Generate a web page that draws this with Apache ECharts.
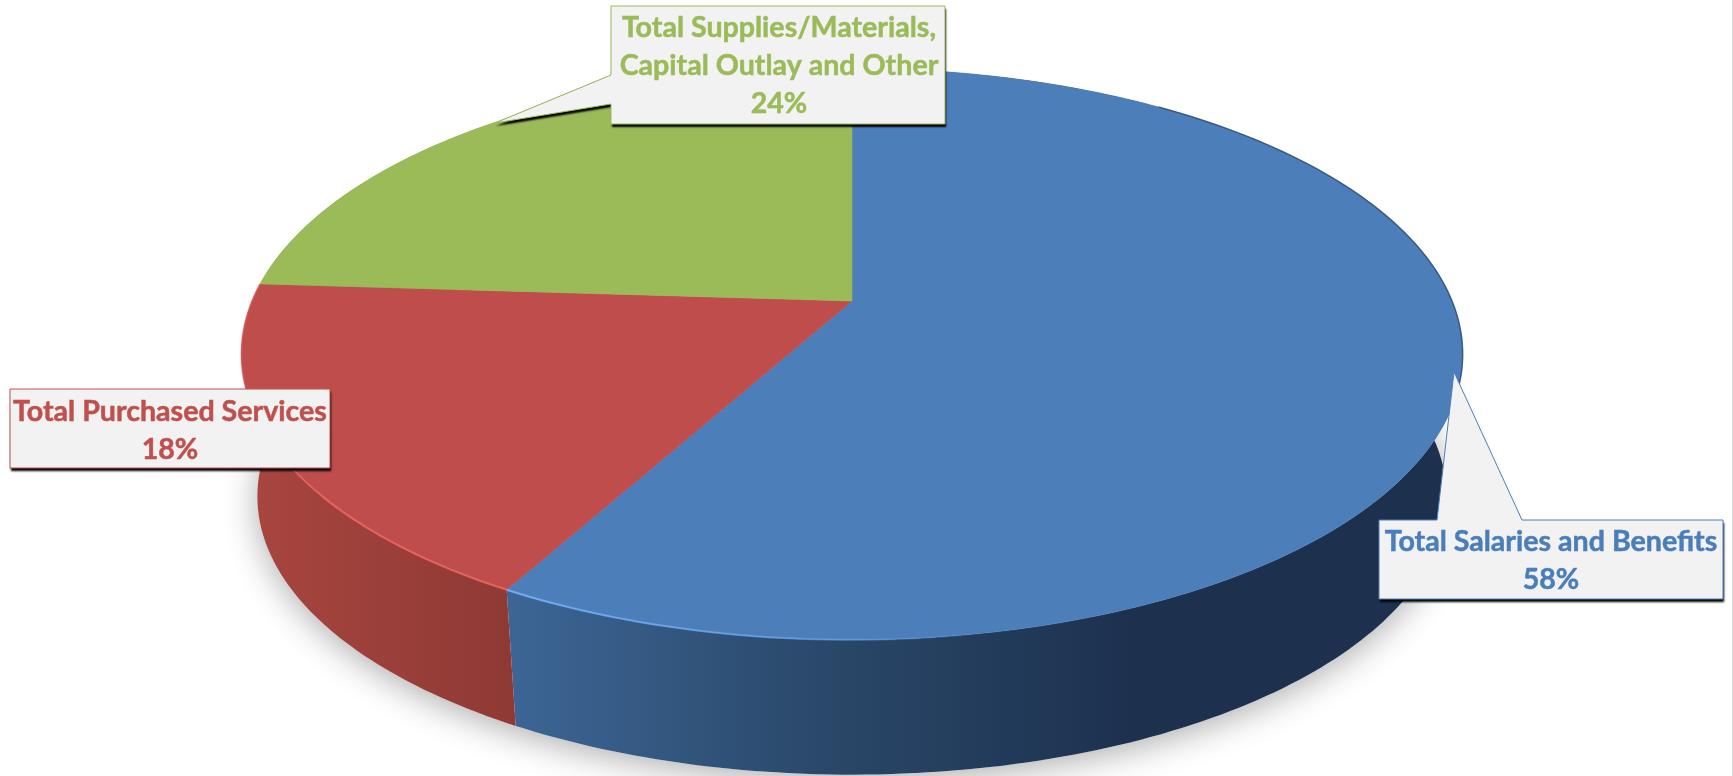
<!DOCTYPE html>
<html>
<head>
<meta charset="utf-8">
<title>Expenditures by category</title>
<script src="https://cdn.jsdelivr.net/npm/echarts@6/dist/echarts.min.js"></script>
<style>
  html, body { margin: 0; padding: 0; background: #ffffff; }
  #chart { width: 1733px; height: 776px; }
</style>
</head>
<body>
<div id="chart"></div>
<script>
// Spending shares, in drawing order clockwise from twelve o'clock
const categories = ['Total Salaries and Benefits', 'Total Purchased Services', 'Total Supplies/Materials,\nCapital Outlay and Other'];
const shares = [58, 18, 24];

// Slice colours
const faceColors = ['#4c7eba', '#be4d4b', '#9bbb59'];
const labelColors = ['#4a7ebb', '#c0504d', '#9bbb59'];

// Perspective disc: a unit circle projected onto the page
const disc = { cx: 852, cy: 301, rx: 600, ry: 275.8, tilt: 0.186 };
// The lower rim is the same disc scaled towards the vanishing point below the chart
const vanish = { x: 852, y: 5787 };
const baseScale = 0.9738;

function project(turn, lower) {
  const a = turn * 2 * Math.PI;
  const u = Math.sin(a), v = Math.cos(a);
  const d = 1 + disc.tilt * v;
  const x = disc.cx + disc.rx * u / d;
  const y = disc.cy - disc.ry * v / d;
  if (!lower) return [x, y];
  return [vanish.x + (x - vanish.x) * baseScale, vanish.y + (y - vanish.y) * baseScale];
}

function arc(api, from, to, lower) {
  const pts = [];
  const steps = Math.max(2, Math.ceil(Math.abs(to - from) * 360));
  for (let i = 0; i <= steps; i++) {
    pts.push(api.coord(project(from + (to - from) * i / steps, lower)));
  }
  return pts;
}

const gradient = (x0, x1, stops) => new echarts.graphic.LinearGradient(x0, 0, x1, 0, stops, true);

// Wall shading and rim highlights per slice
const wallFills = [
  gradient(515, 1130, [{ offset: 0, color: '#3c6595' }, { offset: 0.5, color: '#2a4869' }, { offset: 1, color: '#1d314f' }]),
  gradient(255, 520, [{ offset: 0, color: '#a8453f' }, { offset: 1, color: '#8e3935' }]),
  '#7d9647'
];
const rimStrokes = [
  gradient(508, 980, [{ offset: 0, color: 'rgba(112,172,245,1)' }, { offset: 0.6, color: 'rgba(112,172,245,0.6)' }, { offset: 1, color: 'rgba(112,172,245,0)' }]),
  gradient(245, 510, [{ offset: 0, color: 'rgba(232,98,92,0.35)' }, { offset: 0.3, color: 'rgba(232,98,92,1)' }, { offset: 1, color: 'rgba(232,98,92,1)' }]),
  null
];
// Dark hairline along the far right of the disc
const backEdge = { from: 0.1, to: 0.3, stroke: 'rgba(45,75,115,0.75)' };

// Callout boxes: box rectangle, pointer triangle and text anchor
const callouts = [
  { box: [1379, 520, 1723, 599], pointer: [[1437, 520], [1454, 372], [1522, 520]], pointerShadow: false, textX: 1551, textY: 542 },
  { box: [10, 389, 330, 468], pointer: null, pointerShadow: false, textX: 170, textY: 412 },
  { box: [611, 6, 945, 124], pointer: [[611, 75], [495, 123], [611, 104]], pointerShadow: true, textX: 779, textY: 28 }
];
const lineGap = 38;

const rows = [];
let running = 0;
shares.forEach(function (value) {
  rows.push([running, value]);
  running += value;
});
const total = running;

function renderBase(params, api) {
  return {
    type: 'polygon',
    shape: { points: arc(api, 0, 1, true) },
    style: { fill: '#ffffff', shadowBlur: 34, shadowColor: 'rgba(0,0,0,0.32)', shadowOffsetX: 0, shadowOffsetY: 6 }
  };
}

function renderWall(params, api) {
  const from = api.value(0) / total, to = from + api.value(1) / total;
  return {
    type: 'polygon',
    shape: { points: arc(api, from, to, false).concat(arc(api, to, from, true)) },
    style: { fill: wallFills[params.dataIndex] }
  };
}

function renderFace(params, api) {
  const from = api.value(0) / total, to = from + api.value(1) / total;
  const color = faceColors[params.dataIndex];
  const apex = api.coord([disc.cx, disc.cy]);
  return {
    type: 'polygon',
    shape: { points: [apex].concat(arc(api, from, to, false)) },
    style: { fill: color, stroke: color, lineWidth: 0.6 }
  };
}

function renderRim(params, api) {
  const i = params.dataIndex;
  const from = api.value(0) / total, to = from + api.value(1) / total;
  const children = [];
  if (rimStrokes[i]) {
    children.push({
      type: 'polyline',
      shape: { points: arc(api, from, to, false) },
      style: { fill: null, stroke: rimStrokes[i], lineWidth: 2 }
    });
  }
  if (i === 0) {
    children.push({
      type: 'polyline',
      shape: { points: arc(api, backEdge.from, backEdge.to, false) },
      style: { fill: null, stroke: backEdge.stroke, lineWidth: 1.5 }
    });
  }
  return { type: 'group', children: children };
}

function renderCallout(params, api) {
  const i = params.dataIndex;
  const c = callouts[i];
  const color = labelColors[i];
  const [x0, y0, x1, y1] = c.box;
  const rect = [[x0, y0], [x1, y0], [x1, y1], [x0, y1]];
  // Walk the outline clockwise so the pointer leaves from the right box edge
  let outline = rect;
  if (c.pointer) {
    outline = c.pointer[0][1] === y0
      ? [[x0, y0]].concat(c.pointer, [[x1, y0], [x1, y1], [x0, y1]])
      : rect.concat(c.pointer.slice().reverse());
  }
  const toPage = function (p) { return api.coord(p); };
  const lines = (categories[i] + '\n' + api.value(1) + '%').split('\n');
  const children = [{
    type: 'polygon',
    shape: { points: (c.pointerShadow ? outline : rect).map(toPage) },
    style: { fill: '#000000', shadowBlur: 2, shadowColor: '#000000', shadowOffsetX: 1, shadowOffsetY: 3 }
  }, {
    type: 'polygon',
    shape: { points: outline.map(toPage) },
    style: { fill: '#f2f2f2', stroke: color, lineWidth: 1 }
  }];
  lines.forEach(function (line, n) {
    const at = api.coord([c.textX, c.textY + n * lineGap]);
    children.push({
      type: 'text',
      style: {
        text: line, x: at[0], y: at[1], align: 'center', verticalAlign: 'middle',
        fill: color, stroke: color, lineWidth: 0.5,
        font: 'bold 28.6px Lato, "Open Sans", sans-serif'
      }
    });
  });
  return { type: 'group', children: children };
}

function layer(name, data, render, z) {
  return {
    type: 'custom', name: name, coordinateSystem: 'cartesian2d', clip: false,
    z: z, silent: true, animation: false, renderItem: render, data: data,
    encode: { x: 0, y: 1 }
  };
}

const chart = echarts.init(document.getElementById('chart'), null, { renderer: 'canvas' });
chart.setOption({
  backgroundColor: '#ffffff',
  animation: false,
  tooltip: { show: false },
  // Page-pixel scales shared by every layer of the disc
  grid: { left: 0, right: 0, top: 0, bottom: 0 },
  xAxis: { type: 'value', min: 0, max: 1733, show: false },
  yAxis: { type: 'value', min: 0, max: 776, inverse: true, show: false },
  // Frame hairline down the right side of the chart area
  graphic: [{
    type: 'line', silent: true, z: 10,
    shape: { x1: 1732.5, y1: 0, x2: 1732.5, y2: 776 },
    style: { stroke: '#d9d9d9', lineWidth: 1 }
  }],
  series: [
    layer('Base', [[0, total]], renderBase, 1),
    layer('Walls', rows, renderWall, 2),
    layer('Faces', rows, renderFace, 3),
    layer('Rims', rows, renderRim, 4),
    layer('Callouts', rows, renderCallout, 5)
  ]
});
</script>
</body>
</html>
